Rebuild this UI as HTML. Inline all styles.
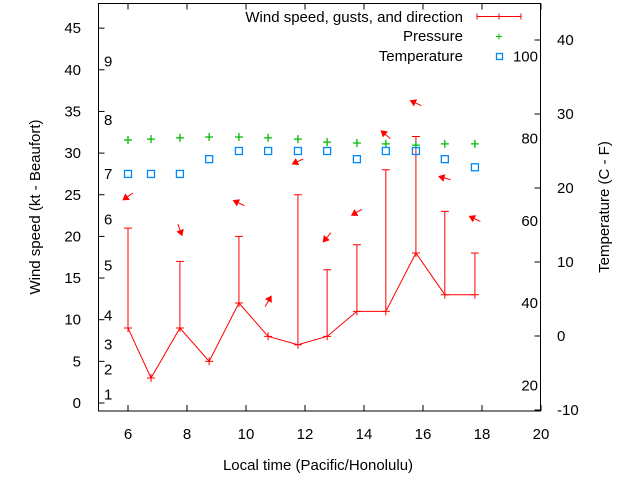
<!DOCTYPE html>
<html><head><meta charset="utf-8"><style>
body{margin:0;background:#fff}
svg{display:block;font-family:"Liberation Sans",sans-serif;font-size:15px}
</style></head><body>
<svg id="c" width="640" height="480"></svg>
<script>
const hours=[6,6.78,7.76,8.75,9.76,10.75,11.76,12.75,13.76,14.74,15.76,16.74,17.76];
const wind=[9,3,9,5,12,8,7,8,11,11,18,13,13];
const gusts=[21,null,17,null,20,null,25,16,19,28,32,23,18];
const temps=[21.9,21.9,21.9,23.9,25,25,25,25,23.9,25,25,23.9,22.8];
const pressure=[1015.0,1015.3,1015.7,1016.0,1016.0,1015.7,1015.3,1014.3,1014.0,1013.7,1013.3,1013.7,1013.7];
const arrowHours=[6,7.76,9.76,10.75,11.76,12.75,13.76,14.74,15.76,16.74,17.76];
const arrowY=[24.8,20.8,24,12.2,29,19.9,22.9,32.2,36,27,22.1];
const arrowDir=[235,160,295,30,245,220,240,310,295,285,295];
const xTicks=[6,8,10,12,14,16,18,20];
const yTicks=[0,5,10,15,20,25,30,35,40,45];
const tTicks=[-10,0,10,20,30,40];
const beaufort=[1,2,3,4,5,6,7,8,9];
const beaufortY=[1,4,7,10.5,16.5,22,27.5,34,41];
const fLabels=[20,40,60,80,100];

const X=h=>98.5+(h-5)*29.5;
const Y=v=>403-v*8.33;
const T=t=>336-t*7.4;
const P=p=>140-(p-1015)*3;
const F=f=>T((f-32)*5/9);
const svg=document.getElementById('c');
function el(tag,attrs,txt){const e=document.createElementNS('http://www.w3.org/2000/svg',tag);for(const k in attrs)e.setAttribute(k,attrs[k]);if(txt!==undefined)e.textContent=txt;svg.appendChild(e);return e;}
let e;
e=el('rect',{x:98.5,y:3.5,width:442,height:407.5,fill:'none',stroke:'#000'});


xTicks.forEach(h=>{
 e=el('path',{d:`M${X(h)} 411V405M${X(h)} 3.5V9.5`,stroke:'#000'});
 
 
 e=el('text',{x:X(h),y:439,'text-anchor':'middle'},h);
 
 
});
yTicks.forEach(v=>{
 e=el('path',{d:`M98.5 ${Y(v)}H104.5`,stroke:'#000'});
 
 
 e=el('text',{x:81,y:Y(v)+5,'text-anchor':'end'},v);
 
 
});
tTicks.forEach(t=>{
 e=el('path',{d:`M540.5 ${T(t)}H534.5`,stroke:'#000'});
 
 
 e=el('text',{x:557,y:T(t)+5},t);
 
 
});
beaufort.forEach((b,i)=>{
 e=el('text',{x:104,y:Y(beaufortY[i])+5},b);
 
 
});
fLabels.forEach(f=>{
 e=el('text',{x:538,y:F(f)+5,'text-anchor':'end'},f);
 
 
});
e=el('text',{x:318,y:470,'text-anchor':'middle'},'Local time (Pacific/Honolulu)');


e=el('text',{x:40,y:207,'text-anchor':'middle',transform:'rotate(-90 40 207)'},'Wind speed (kt - Beaufort)');


e=el('text',{x:609,y:207,'text-anchor':'middle',transform:'rotate(-90 609 207)'},'Temperature (C - F)');


e=el('polyline',{points:hours.map((h,i)=>X(h)+','+Y(wind[i])).join(' '),fill:'none',stroke:'#f00'});


hours.forEach((h,i)=>{
 const x=X(h),y=Y(wind[i]);
 let d=`M${x-4} ${y}H${x+4}M${x} ${y-4}V${y+4}`;
 if(gusts[i]!==null){const g=Y(gusts[i]);d+=`M${x} ${y}V${g}M${x-4} ${g}H${x+4}`;}
 e=el('path',{d:d,stroke:'#f00'});
 
 
 const px=X(h),py=P(pressure[i]);
 e=el('path',{d:`M${px-4} ${py}H${px+4}M${px} ${py-4}V${py+4}`,stroke:'#0b0','stroke-width':1.3});
 
 
 const ty=T(temps[i]);
 e=el('rect',{x:px-3.5,y:ty-3.5,width:7,height:7,fill:'none',stroke:'#08f','stroke-width':1.3});
 
 
});
arrowHours.forEach((h,i)=>{
 const a=arrowDir[i]*Math.PI/180,dx=Math.sin(a),dy=-Math.cos(a);
 const cx=X(h),cy=Y(arrowY[i]);
 const hx=cx+dx*6,hy=cy+dy*6,tx=cx-dx*6,ty=cy-dy*6;
 const px=-dy,py=dx;
 e=el('path',{d:`M${tx} ${ty}L${hx} ${hy}M${hx} ${hy}L${hx-dx*5+px*3} ${hy-dy*5+py*3}L${hx-dx*5-px*3} ${hy-dy*5-py*3}Z`,stroke:'#f00',fill:'#f00'});
 
 
});
e=el('text',{x:463,y:22,'text-anchor':'end'},'Wind speed, gusts, and direction');


e=el('path',{d:'M477 16.5H521M477 13.5V19.5M499 13.5V19.5M521 13.5V19.5',stroke:'#f00'});


e=el('text',{x:463,y:41,'text-anchor':'end'},'Pressure');


e=el('path',{d:'M496 36.5H502M499 33.5V39.5',stroke:'#0b0'});


e=el('text',{x:463,y:61,'text-anchor':'end'},'Temperature');


e=el('rect',{x:496.5,y:53.5,width:6,height:6,fill:'none',stroke:'#08f','stroke-width':1.3});


</script>
</body></html>
